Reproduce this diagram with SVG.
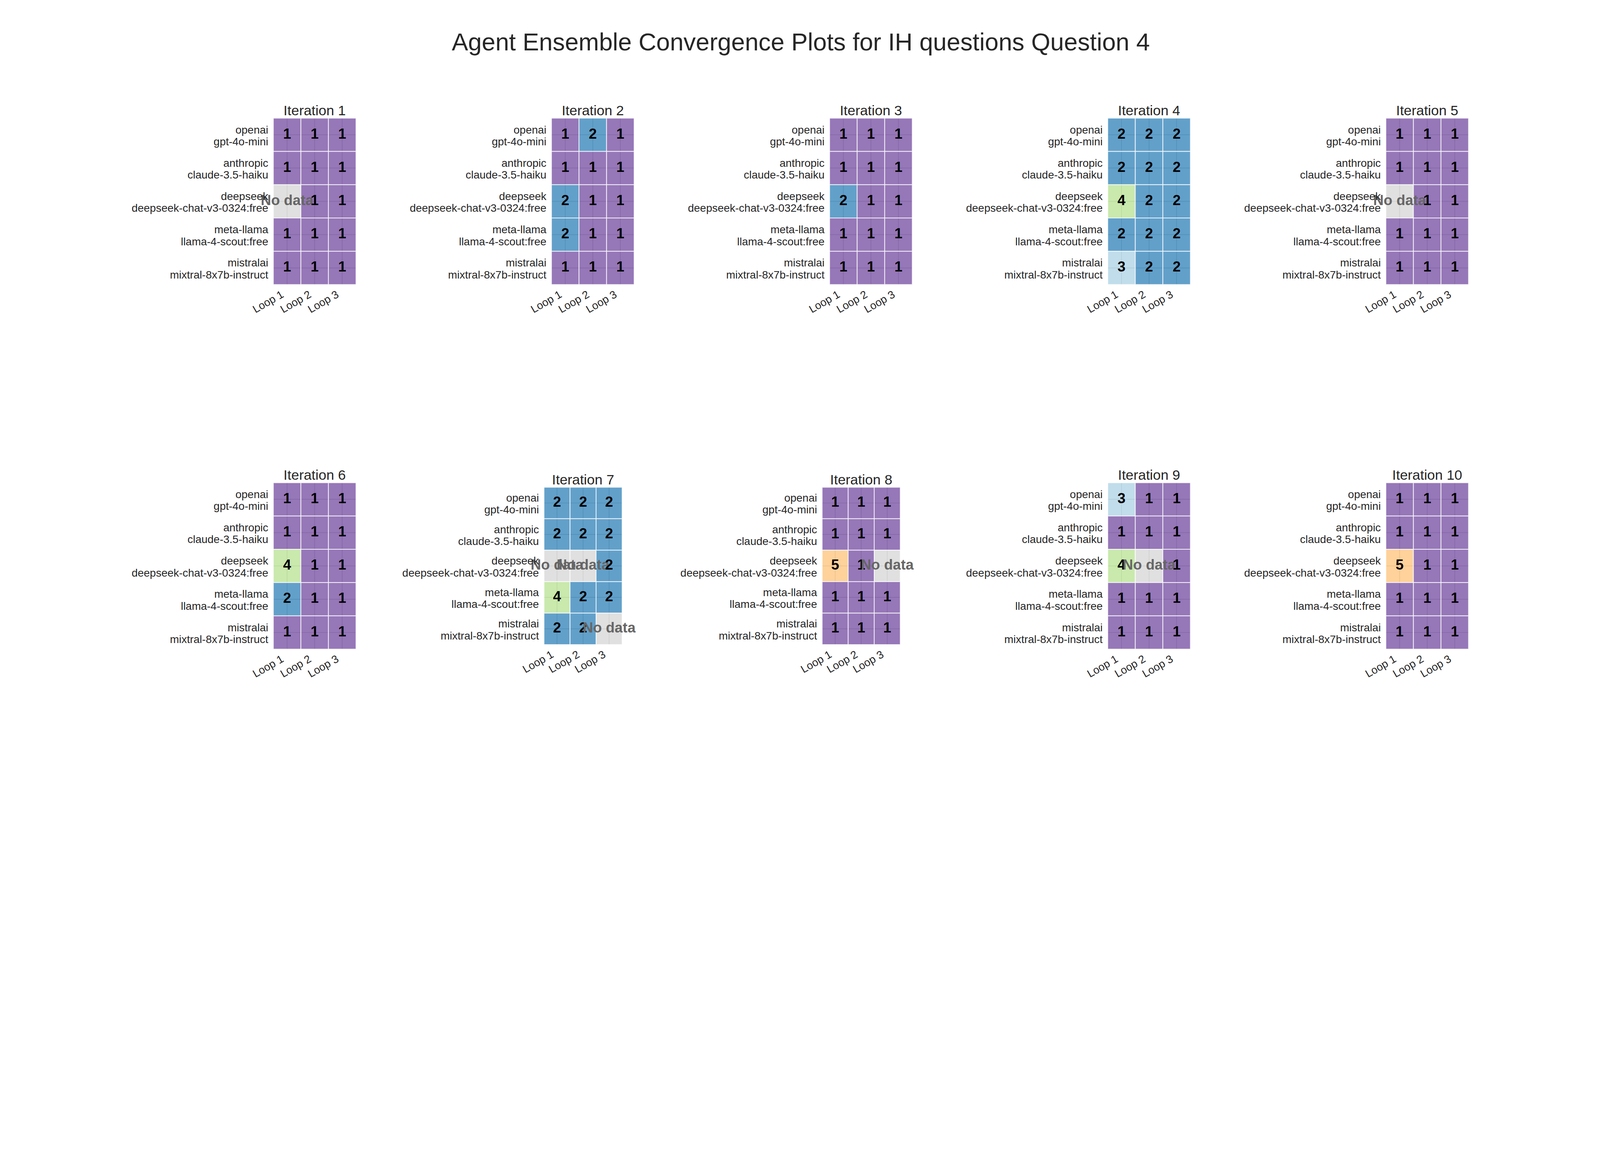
<svg xmlns="http://www.w3.org/2000/svg" width="6000" height="3000" viewBox="0 0 6000 3000" style="width:100vw;height:50vw;max-width:6000px;max-height:3000px;display:block">
<style>
text{font-family:"Liberation Sans",Arial,Helvetica,sans-serif}
.sup{font-size:92px;fill:#262626;text-anchor:middle}
.ttl{font-size:52.5px;fill:#262626;text-anchor:middle}
.lbl{font-size:41px;fill:#262626;text-anchor:end}
.loop{font-size:41px;fill:#262626;text-anchor:end}
.num{font-size:54px;font-weight:bold;fill:#000;text-anchor:middle}
.nd{font-size:54px;font-weight:bold;fill:#666;text-anchor:middle}
.grid{stroke:#cccccc;stroke-width:2.5;fill:none}
.c{stroke:#ffffff;stroke-width:3;stroke-opacity:0.8;fill-opacity:0.7}
.v1{fill:#6a3d9a}.v2{fill:#1f78b4}.v3{fill:#a6cee3}.v4{fill:#b2df8a}.v5{fill:#fdbf6f}.na{fill:#d3d3d3}
</style>
<rect width="6000" height="3000" fill="#ffffff"/>
<text id="suptitle" class="sup" x="3003" y="189">Agent Ensemble Convergence Plots for IH questions Question 4</text>

<g id="iteration-1" transform="translate(1025,443)">
<path class="grid" d="M51.67 0V624M155 0V624M258.33 0V624M0 62.4H310M0 187.2H310M0 312H310M0 436.8H310M0 561.6H310"/>
<rect class="c v1" x="0" y="0" width="103.33" height="124.8"/><rect class="c v1" x="103.33" y="0" width="103.33" height="124.8"/><rect class="c v1" x="206.67" y="0" width="103.33" height="124.8"/>
<rect class="c v1" x="0" y="124.8" width="103.33" height="124.8"/><rect class="c v1" x="103.33" y="124.8" width="103.33" height="124.8"/><rect class="c v1" x="206.67" y="124.8" width="103.33" height="124.8"/>
<rect class="c na" x="0" y="249.6" width="103.33" height="124.8"/><rect class="c v1" x="103.33" y="249.6" width="103.33" height="124.8"/><rect class="c v1" x="206.67" y="249.6" width="103.33" height="124.8"/>
<rect class="c v1" x="0" y="374.4" width="103.33" height="124.8"/><rect class="c v1" x="103.33" y="374.4" width="103.33" height="124.8"/><rect class="c v1" x="206.67" y="374.4" width="103.33" height="124.8"/>
<rect class="c v1" x="0" y="499.2" width="103.33" height="124.8"/><rect class="c v1" x="103.33" y="499.2" width="103.33" height="124.8"/><rect class="c v1" x="206.67" y="499.2" width="103.33" height="124.8"/>
<text class="num" x="51.67" y="76.4">1</text><text class="num" x="155" y="76.4">1</text><text class="num" x="258.33" y="76.4">1</text>
<text class="num" x="51.67" y="201.2">1</text><text class="num" x="155" y="201.2">1</text><text class="num" x="258.33" y="201.2">1</text>
<text class="nd" x="51.67" y="326">No data</text><text class="num" x="155" y="326">1</text><text class="num" x="258.33" y="326">1</text>
<text class="num" x="51.67" y="450.8">1</text><text class="num" x="155" y="450.8">1</text><text class="num" x="258.33" y="450.8">1</text>
<text class="num" x="51.67" y="575.6">1</text><text class="num" x="155" y="575.6">1</text><text class="num" x="258.33" y="575.6">1</text>
<text class="ttl" x="155" y="-11">Iteration 1</text>
<text class="lbl" x="-19" y="57.4"><tspan x="-19">openai</tspan><tspan x="-19" dy="44.5">gpt-4o-mini</tspan></text>
<text class="lbl" x="-19" y="182.2"><tspan x="-19">anthropic</tspan><tspan x="-19" dy="44.5">claude-3.5-haiku</tspan></text>
<text class="lbl" x="-19" y="307"><tspan x="-19">deepseek</tspan><tspan x="-19" dy="44.5">deepseek-chat-v3-0324:free</tspan></text>
<text class="lbl" x="-19" y="431.8"><tspan x="-19">meta-llama</tspan><tspan x="-19" dy="44.5">llama-4-scout:free</tspan></text>
<text class="lbl" x="-19" y="556.6"><tspan x="-19">mistralai</tspan><tspan x="-19" dy="44.5">mixtral-8x7b-instruct</tspan></text>
<text class="loop" x="41.67" y="669" transform="rotate(-30 41.67 669)">Loop 1</text>
<text class="loop" x="145" y="669" transform="rotate(-30 145 669)">Loop 2</text>
<text class="loop" x="248.33" y="669" transform="rotate(-30 248.33 669)">Loop 3</text>
</g>

<g id="iteration-2" transform="translate(2068,443)">
<path class="grid" d="M51.67 0V624M155 0V624M258.33 0V624M0 62.4H310M0 187.2H310M0 312H310M0 436.8H310M0 561.6H310"/>
<rect class="c v1" x="0" y="0" width="103.33" height="124.8"/><rect class="c v2" x="103.33" y="0" width="103.33" height="124.8"/><rect class="c v1" x="206.67" y="0" width="103.33" height="124.8"/>
<rect class="c v1" x="0" y="124.8" width="103.33" height="124.8"/><rect class="c v1" x="103.33" y="124.8" width="103.33" height="124.8"/><rect class="c v1" x="206.67" y="124.8" width="103.33" height="124.8"/>
<rect class="c v2" x="0" y="249.6" width="103.33" height="124.8"/><rect class="c v1" x="103.33" y="249.6" width="103.33" height="124.8"/><rect class="c v1" x="206.67" y="249.6" width="103.33" height="124.8"/>
<rect class="c v2" x="0" y="374.4" width="103.33" height="124.8"/><rect class="c v1" x="103.33" y="374.4" width="103.33" height="124.8"/><rect class="c v1" x="206.67" y="374.4" width="103.33" height="124.8"/>
<rect class="c v1" x="0" y="499.2" width="103.33" height="124.8"/><rect class="c v1" x="103.33" y="499.2" width="103.33" height="124.8"/><rect class="c v1" x="206.67" y="499.2" width="103.33" height="124.8"/>
<text class="num" x="51.67" y="76.4">1</text><text class="num" x="155" y="76.4">2</text><text class="num" x="258.33" y="76.4">1</text>
<text class="num" x="51.67" y="201.2">1</text><text class="num" x="155" y="201.2">1</text><text class="num" x="258.33" y="201.2">1</text>
<text class="num" x="51.67" y="326">2</text><text class="num" x="155" y="326">1</text><text class="num" x="258.33" y="326">1</text>
<text class="num" x="51.67" y="450.8">2</text><text class="num" x="155" y="450.8">1</text><text class="num" x="258.33" y="450.8">1</text>
<text class="num" x="51.67" y="575.6">1</text><text class="num" x="155" y="575.6">1</text><text class="num" x="258.33" y="575.6">1</text>
<text class="ttl" x="155" y="-11">Iteration 2</text>
<text class="lbl" x="-19" y="57.4"><tspan x="-19">openai</tspan><tspan x="-19" dy="44.5">gpt-4o-mini</tspan></text>
<text class="lbl" x="-19" y="182.2"><tspan x="-19">anthropic</tspan><tspan x="-19" dy="44.5">claude-3.5-haiku</tspan></text>
<text class="lbl" x="-19" y="307"><tspan x="-19">deepseek</tspan><tspan x="-19" dy="44.5">deepseek-chat-v3-0324:free</tspan></text>
<text class="lbl" x="-19" y="431.8"><tspan x="-19">meta-llama</tspan><tspan x="-19" dy="44.5">llama-4-scout:free</tspan></text>
<text class="lbl" x="-19" y="556.6"><tspan x="-19">mistralai</tspan><tspan x="-19" dy="44.5">mixtral-8x7b-instruct</tspan></text>
<text class="loop" x="41.67" y="669" transform="rotate(-30 41.67 669)">Loop 1</text>
<text class="loop" x="145" y="669" transform="rotate(-30 145 669)">Loop 2</text>
<text class="loop" x="248.33" y="669" transform="rotate(-30 248.33 669)">Loop 3</text>
</g>

<g id="iteration-3" transform="translate(3111,443)">
<path class="grid" d="M51.67 0V624M155 0V624M258.33 0V624M0 62.4H310M0 187.2H310M0 312H310M0 436.8H310M0 561.6H310"/>
<rect class="c v1" x="0" y="0" width="103.33" height="124.8"/><rect class="c v1" x="103.33" y="0" width="103.33" height="124.8"/><rect class="c v1" x="206.67" y="0" width="103.33" height="124.8"/>
<rect class="c v1" x="0" y="124.8" width="103.33" height="124.8"/><rect class="c v1" x="103.33" y="124.8" width="103.33" height="124.8"/><rect class="c v1" x="206.67" y="124.8" width="103.33" height="124.8"/>
<rect class="c v2" x="0" y="249.6" width="103.33" height="124.8"/><rect class="c v1" x="103.33" y="249.6" width="103.33" height="124.8"/><rect class="c v1" x="206.67" y="249.6" width="103.33" height="124.8"/>
<rect class="c v1" x="0" y="374.4" width="103.33" height="124.8"/><rect class="c v1" x="103.33" y="374.4" width="103.33" height="124.8"/><rect class="c v1" x="206.67" y="374.4" width="103.33" height="124.8"/>
<rect class="c v1" x="0" y="499.2" width="103.33" height="124.8"/><rect class="c v1" x="103.33" y="499.2" width="103.33" height="124.8"/><rect class="c v1" x="206.67" y="499.2" width="103.33" height="124.8"/>
<text class="num" x="51.67" y="76.4">1</text><text class="num" x="155" y="76.4">1</text><text class="num" x="258.33" y="76.4">1</text>
<text class="num" x="51.67" y="201.2">1</text><text class="num" x="155" y="201.2">1</text><text class="num" x="258.33" y="201.2">1</text>
<text class="num" x="51.67" y="326">2</text><text class="num" x="155" y="326">1</text><text class="num" x="258.33" y="326">1</text>
<text class="num" x="51.67" y="450.8">1</text><text class="num" x="155" y="450.8">1</text><text class="num" x="258.33" y="450.8">1</text>
<text class="num" x="51.67" y="575.6">1</text><text class="num" x="155" y="575.6">1</text><text class="num" x="258.33" y="575.6">1</text>
<text class="ttl" x="155" y="-11">Iteration 3</text>
<text class="lbl" x="-19" y="57.4"><tspan x="-19">openai</tspan><tspan x="-19" dy="44.5">gpt-4o-mini</tspan></text>
<text class="lbl" x="-19" y="182.2"><tspan x="-19">anthropic</tspan><tspan x="-19" dy="44.5">claude-3.5-haiku</tspan></text>
<text class="lbl" x="-19" y="307"><tspan x="-19">deepseek</tspan><tspan x="-19" dy="44.5">deepseek-chat-v3-0324:free</tspan></text>
<text class="lbl" x="-19" y="431.8"><tspan x="-19">meta-llama</tspan><tspan x="-19" dy="44.5">llama-4-scout:free</tspan></text>
<text class="lbl" x="-19" y="556.6"><tspan x="-19">mistralai</tspan><tspan x="-19" dy="44.5">mixtral-8x7b-instruct</tspan></text>
<text class="loop" x="41.67" y="669" transform="rotate(-30 41.67 669)">Loop 1</text>
<text class="loop" x="145" y="669" transform="rotate(-30 145 669)">Loop 2</text>
<text class="loop" x="248.33" y="669" transform="rotate(-30 248.33 669)">Loop 3</text>
</g>

<g id="iteration-4" transform="translate(4154,443)">
<path class="grid" d="M51.67 0V624M155 0V624M258.33 0V624M0 62.4H310M0 187.2H310M0 312H310M0 436.8H310M0 561.6H310"/>
<rect class="c v2" x="0" y="0" width="103.33" height="124.8"/><rect class="c v2" x="103.33" y="0" width="103.33" height="124.8"/><rect class="c v2" x="206.67" y="0" width="103.33" height="124.8"/>
<rect class="c v2" x="0" y="124.8" width="103.33" height="124.8"/><rect class="c v2" x="103.33" y="124.8" width="103.33" height="124.8"/><rect class="c v2" x="206.67" y="124.8" width="103.33" height="124.8"/>
<rect class="c v4" x="0" y="249.6" width="103.33" height="124.8"/><rect class="c v2" x="103.33" y="249.6" width="103.33" height="124.8"/><rect class="c v2" x="206.67" y="249.6" width="103.33" height="124.8"/>
<rect class="c v2" x="0" y="374.4" width="103.33" height="124.8"/><rect class="c v2" x="103.33" y="374.4" width="103.33" height="124.8"/><rect class="c v2" x="206.67" y="374.4" width="103.33" height="124.8"/>
<rect class="c v3" x="0" y="499.2" width="103.33" height="124.8"/><rect class="c v2" x="103.33" y="499.2" width="103.33" height="124.8"/><rect class="c v2" x="206.67" y="499.2" width="103.33" height="124.8"/>
<text class="num" x="51.67" y="76.4">2</text><text class="num" x="155" y="76.4">2</text><text class="num" x="258.33" y="76.4">2</text>
<text class="num" x="51.67" y="201.2">2</text><text class="num" x="155" y="201.2">2</text><text class="num" x="258.33" y="201.2">2</text>
<text class="num" x="51.67" y="326">4</text><text class="num" x="155" y="326">2</text><text class="num" x="258.33" y="326">2</text>
<text class="num" x="51.67" y="450.8">2</text><text class="num" x="155" y="450.8">2</text><text class="num" x="258.33" y="450.8">2</text>
<text class="num" x="51.67" y="575.6">3</text><text class="num" x="155" y="575.6">2</text><text class="num" x="258.33" y="575.6">2</text>
<text class="ttl" x="155" y="-11">Iteration 4</text>
<text class="lbl" x="-19" y="57.4"><tspan x="-19">openai</tspan><tspan x="-19" dy="44.5">gpt-4o-mini</tspan></text>
<text class="lbl" x="-19" y="182.2"><tspan x="-19">anthropic</tspan><tspan x="-19" dy="44.5">claude-3.5-haiku</tspan></text>
<text class="lbl" x="-19" y="307"><tspan x="-19">deepseek</tspan><tspan x="-19" dy="44.5">deepseek-chat-v3-0324:free</tspan></text>
<text class="lbl" x="-19" y="431.8"><tspan x="-19">meta-llama</tspan><tspan x="-19" dy="44.5">llama-4-scout:free</tspan></text>
<text class="lbl" x="-19" y="556.6"><tspan x="-19">mistralai</tspan><tspan x="-19" dy="44.5">mixtral-8x7b-instruct</tspan></text>
<text class="loop" x="41.67" y="669" transform="rotate(-30 41.67 669)">Loop 1</text>
<text class="loop" x="145" y="669" transform="rotate(-30 145 669)">Loop 2</text>
<text class="loop" x="248.33" y="669" transform="rotate(-30 248.33 669)">Loop 3</text>
</g>

<g id="iteration-5" transform="translate(5197,443)">
<path class="grid" d="M51.67 0V624M155 0V624M258.33 0V624M0 62.4H310M0 187.2H310M0 312H310M0 436.8H310M0 561.6H310"/>
<rect class="c v1" x="0" y="0" width="103.33" height="124.8"/><rect class="c v1" x="103.33" y="0" width="103.33" height="124.8"/><rect class="c v1" x="206.67" y="0" width="103.33" height="124.8"/>
<rect class="c v1" x="0" y="124.8" width="103.33" height="124.8"/><rect class="c v1" x="103.33" y="124.8" width="103.33" height="124.8"/><rect class="c v1" x="206.67" y="124.8" width="103.33" height="124.8"/>
<rect class="c na" x="0" y="249.6" width="103.33" height="124.8"/><rect class="c v1" x="103.33" y="249.6" width="103.33" height="124.8"/><rect class="c v1" x="206.67" y="249.6" width="103.33" height="124.8"/>
<rect class="c v1" x="0" y="374.4" width="103.33" height="124.8"/><rect class="c v1" x="103.33" y="374.4" width="103.33" height="124.8"/><rect class="c v1" x="206.67" y="374.4" width="103.33" height="124.8"/>
<rect class="c v1" x="0" y="499.2" width="103.33" height="124.8"/><rect class="c v1" x="103.33" y="499.2" width="103.33" height="124.8"/><rect class="c v1" x="206.67" y="499.2" width="103.33" height="124.8"/>
<text class="num" x="51.67" y="76.4">1</text><text class="num" x="155" y="76.4">1</text><text class="num" x="258.33" y="76.4">1</text>
<text class="num" x="51.67" y="201.2">1</text><text class="num" x="155" y="201.2">1</text><text class="num" x="258.33" y="201.2">1</text>
<text class="nd" x="51.67" y="326">No data</text><text class="num" x="155" y="326">1</text><text class="num" x="258.33" y="326">1</text>
<text class="num" x="51.67" y="450.8">1</text><text class="num" x="155" y="450.8">1</text><text class="num" x="258.33" y="450.8">1</text>
<text class="num" x="51.67" y="575.6">1</text><text class="num" x="155" y="575.6">1</text><text class="num" x="258.33" y="575.6">1</text>
<text class="ttl" x="155" y="-11">Iteration 5</text>
<text class="lbl" x="-19" y="57.4"><tspan x="-19">openai</tspan><tspan x="-19" dy="44.5">gpt-4o-mini</tspan></text>
<text class="lbl" x="-19" y="182.2"><tspan x="-19">anthropic</tspan><tspan x="-19" dy="44.5">claude-3.5-haiku</tspan></text>
<text class="lbl" x="-19" y="307"><tspan x="-19">deepseek</tspan><tspan x="-19" dy="44.5">deepseek-chat-v3-0324:free</tspan></text>
<text class="lbl" x="-19" y="431.8"><tspan x="-19">meta-llama</tspan><tspan x="-19" dy="44.5">llama-4-scout:free</tspan></text>
<text class="lbl" x="-19" y="556.6"><tspan x="-19">mistralai</tspan><tspan x="-19" dy="44.5">mixtral-8x7b-instruct</tspan></text>
<text class="loop" x="41.67" y="669" transform="rotate(-30 41.67 669)">Loop 1</text>
<text class="loop" x="145" y="669" transform="rotate(-30 145 669)">Loop 2</text>
<text class="loop" x="248.33" y="669" transform="rotate(-30 248.33 669)">Loop 3</text>
</g>

<g id="iteration-6" transform="translate(1025,1810)">
<path class="grid" d="M51.67 0V624M155 0V624M258.33 0V624M0 62.4H310M0 187.2H310M0 312H310M0 436.8H310M0 561.6H310"/>
<rect class="c v1" x="0" y="0" width="103.33" height="124.8"/><rect class="c v1" x="103.33" y="0" width="103.33" height="124.8"/><rect class="c v1" x="206.67" y="0" width="103.33" height="124.8"/>
<rect class="c v1" x="0" y="124.8" width="103.33" height="124.8"/><rect class="c v1" x="103.33" y="124.8" width="103.33" height="124.8"/><rect class="c v1" x="206.67" y="124.8" width="103.33" height="124.8"/>
<rect class="c v4" x="0" y="249.6" width="103.33" height="124.8"/><rect class="c v1" x="103.33" y="249.6" width="103.33" height="124.8"/><rect class="c v1" x="206.67" y="249.6" width="103.33" height="124.8"/>
<rect class="c v2" x="0" y="374.4" width="103.33" height="124.8"/><rect class="c v1" x="103.33" y="374.4" width="103.33" height="124.8"/><rect class="c v1" x="206.67" y="374.4" width="103.33" height="124.8"/>
<rect class="c v1" x="0" y="499.2" width="103.33" height="124.8"/><rect class="c v1" x="103.33" y="499.2" width="103.33" height="124.8"/><rect class="c v1" x="206.67" y="499.2" width="103.33" height="124.8"/>
<text class="num" x="51.67" y="76.4">1</text><text class="num" x="155" y="76.4">1</text><text class="num" x="258.33" y="76.4">1</text>
<text class="num" x="51.67" y="201.2">1</text><text class="num" x="155" y="201.2">1</text><text class="num" x="258.33" y="201.2">1</text>
<text class="num" x="51.67" y="326">4</text><text class="num" x="155" y="326">1</text><text class="num" x="258.33" y="326">1</text>
<text class="num" x="51.67" y="450.8">2</text><text class="num" x="155" y="450.8">1</text><text class="num" x="258.33" y="450.8">1</text>
<text class="num" x="51.67" y="575.6">1</text><text class="num" x="155" y="575.6">1</text><text class="num" x="258.33" y="575.6">1</text>
<text class="ttl" x="155" y="-11">Iteration 6</text>
<text class="lbl" x="-19" y="57.4"><tspan x="-19">openai</tspan><tspan x="-19" dy="44.5">gpt-4o-mini</tspan></text>
<text class="lbl" x="-19" y="182.2"><tspan x="-19">anthropic</tspan><tspan x="-19" dy="44.5">claude-3.5-haiku</tspan></text>
<text class="lbl" x="-19" y="307"><tspan x="-19">deepseek</tspan><tspan x="-19" dy="44.5">deepseek-chat-v3-0324:free</tspan></text>
<text class="lbl" x="-19" y="431.8"><tspan x="-19">meta-llama</tspan><tspan x="-19" dy="44.5">llama-4-scout:free</tspan></text>
<text class="lbl" x="-19" y="556.6"><tspan x="-19">mistralai</tspan><tspan x="-19" dy="44.5">mixtral-8x7b-instruct</tspan></text>
<text class="loop" x="41.67" y="669" transform="rotate(-30 41.67 669)">Loop 1</text>
<text class="loop" x="145" y="669" transform="rotate(-30 145 669)">Loop 2</text>
<text class="loop" x="248.33" y="669" transform="rotate(-30 248.33 669)">Loop 3</text>
</g>

<g id="iteration-7" transform="translate(2040,1827)">
<path class="grid" d="M48.83 0V590M146.5 0V590M244.17 0V590M0 59H293M0 177H293M0 295H293M0 413H293M0 531H293"/>
<rect class="c v2" x="0" y="0" width="97.67" height="118"/><rect class="c v2" x="97.67" y="0" width="97.67" height="118"/><rect class="c v2" x="195.33" y="0" width="97.67" height="118"/>
<rect class="c v2" x="0" y="118" width="97.67" height="118"/><rect class="c v2" x="97.67" y="118" width="97.67" height="118"/><rect class="c v2" x="195.33" y="118" width="97.67" height="118"/>
<rect class="c na" x="0" y="236" width="97.67" height="118"/><rect class="c na" x="97.67" y="236" width="97.67" height="118"/><rect class="c v2" x="195.33" y="236" width="97.67" height="118"/>
<rect class="c v4" x="0" y="354" width="97.67" height="118"/><rect class="c v2" x="97.67" y="354" width="97.67" height="118"/><rect class="c v2" x="195.33" y="354" width="97.67" height="118"/>
<rect class="c v2" x="0" y="472" width="97.67" height="118"/><rect class="c v2" x="97.67" y="472" width="97.67" height="118"/><rect class="c na" x="195.33" y="472" width="97.67" height="118"/>
<text class="num" x="48.83" y="73">2</text><text class="num" x="146.5" y="73">2</text><text class="num" x="244.17" y="73">2</text>
<text class="num" x="48.83" y="191">2</text><text class="num" x="146.5" y="191">2</text><text class="num" x="244.17" y="191">2</text>
<text class="nd" x="48.83" y="309">No data</text><text class="nd" x="146.5" y="309">No data</text><text class="num" x="244.17" y="309">2</text>
<text class="num" x="48.83" y="427">4</text><text class="num" x="146.5" y="427">2</text><text class="num" x="244.17" y="427">2</text>
<text class="num" x="48.83" y="545">2</text><text class="num" x="146.5" y="545">2</text><text class="nd" x="244.17" y="545">No data</text>
<text class="ttl" x="146.5" y="-11">Iteration 7</text>
<text class="lbl" x="-19" y="54"><tspan x="-19">openai</tspan><tspan x="-19" dy="44.5">gpt-4o-mini</tspan></text>
<text class="lbl" x="-19" y="172"><tspan x="-19">anthropic</tspan><tspan x="-19" dy="44.5">claude-3.5-haiku</tspan></text>
<text class="lbl" x="-19" y="290"><tspan x="-19">deepseek</tspan><tspan x="-19" dy="44.5">deepseek-chat-v3-0324:free</tspan></text>
<text class="lbl" x="-19" y="408"><tspan x="-19">meta-llama</tspan><tspan x="-19" dy="44.5">llama-4-scout:free</tspan></text>
<text class="lbl" x="-19" y="526"><tspan x="-19">mistralai</tspan><tspan x="-19" dy="44.5">mixtral-8x7b-instruct</tspan></text>
<text class="loop" x="38.83" y="635" transform="rotate(-30 38.83 635)">Loop 1</text>
<text class="loop" x="136.5" y="635" transform="rotate(-30 136.5 635)">Loop 2</text>
<text class="loop" x="234.17" y="635" transform="rotate(-30 234.17 635)">Loop 3</text>
</g>

<g id="iteration-8" transform="translate(3083,1827)">
<path class="grid" d="M48.83 0V590M146.5 0V590M244.17 0V590M0 59H293M0 177H293M0 295H293M0 413H293M0 531H293"/>
<rect class="c v1" x="0" y="0" width="97.67" height="118"/><rect class="c v1" x="97.67" y="0" width="97.67" height="118"/><rect class="c v1" x="195.33" y="0" width="97.67" height="118"/>
<rect class="c v1" x="0" y="118" width="97.67" height="118"/><rect class="c v1" x="97.67" y="118" width="97.67" height="118"/><rect class="c v1" x="195.33" y="118" width="97.67" height="118"/>
<rect class="c v5" x="0" y="236" width="97.67" height="118"/><rect class="c v1" x="97.67" y="236" width="97.67" height="118"/><rect class="c na" x="195.33" y="236" width="97.67" height="118"/>
<rect class="c v1" x="0" y="354" width="97.67" height="118"/><rect class="c v1" x="97.67" y="354" width="97.67" height="118"/><rect class="c v1" x="195.33" y="354" width="97.67" height="118"/>
<rect class="c v1" x="0" y="472" width="97.67" height="118"/><rect class="c v1" x="97.67" y="472" width="97.67" height="118"/><rect class="c v1" x="195.33" y="472" width="97.67" height="118"/>
<text class="num" x="48.83" y="73">1</text><text class="num" x="146.5" y="73">1</text><text class="num" x="244.17" y="73">1</text>
<text class="num" x="48.83" y="191">1</text><text class="num" x="146.5" y="191">1</text><text class="num" x="244.17" y="191">1</text>
<text class="num" x="48.83" y="309">5</text><text class="num" x="146.5" y="309">1</text><text class="nd" x="244.17" y="309">No data</text>
<text class="num" x="48.83" y="427">1</text><text class="num" x="146.5" y="427">1</text><text class="num" x="244.17" y="427">1</text>
<text class="num" x="48.83" y="545">1</text><text class="num" x="146.5" y="545">1</text><text class="num" x="244.17" y="545">1</text>
<text class="ttl" x="146.5" y="-11">Iteration 8</text>
<text class="lbl" x="-19" y="54"><tspan x="-19">openai</tspan><tspan x="-19" dy="44.5">gpt-4o-mini</tspan></text>
<text class="lbl" x="-19" y="172"><tspan x="-19">anthropic</tspan><tspan x="-19" dy="44.5">claude-3.5-haiku</tspan></text>
<text class="lbl" x="-19" y="290"><tspan x="-19">deepseek</tspan><tspan x="-19" dy="44.5">deepseek-chat-v3-0324:free</tspan></text>
<text class="lbl" x="-19" y="408"><tspan x="-19">meta-llama</tspan><tspan x="-19" dy="44.5">llama-4-scout:free</tspan></text>
<text class="lbl" x="-19" y="526"><tspan x="-19">mistralai</tspan><tspan x="-19" dy="44.5">mixtral-8x7b-instruct</tspan></text>
<text class="loop" x="38.83" y="635" transform="rotate(-30 38.83 635)">Loop 1</text>
<text class="loop" x="136.5" y="635" transform="rotate(-30 136.5 635)">Loop 2</text>
<text class="loop" x="234.17" y="635" transform="rotate(-30 234.17 635)">Loop 3</text>
</g>

<g id="iteration-9" transform="translate(4154,1810)">
<path class="grid" d="M51.67 0V624M155 0V624M258.33 0V624M0 62.4H310M0 187.2H310M0 312H310M0 436.8H310M0 561.6H310"/>
<rect class="c v3" x="0" y="0" width="103.33" height="124.8"/><rect class="c v1" x="103.33" y="0" width="103.33" height="124.8"/><rect class="c v1" x="206.67" y="0" width="103.33" height="124.8"/>
<rect class="c v1" x="0" y="124.8" width="103.33" height="124.8"/><rect class="c v1" x="103.33" y="124.8" width="103.33" height="124.8"/><rect class="c v1" x="206.67" y="124.8" width="103.33" height="124.8"/>
<rect class="c v4" x="0" y="249.6" width="103.33" height="124.8"/><rect class="c na" x="103.33" y="249.6" width="103.33" height="124.8"/><rect class="c v1" x="206.67" y="249.6" width="103.33" height="124.8"/>
<rect class="c v1" x="0" y="374.4" width="103.33" height="124.8"/><rect class="c v1" x="103.33" y="374.4" width="103.33" height="124.8"/><rect class="c v1" x="206.67" y="374.4" width="103.33" height="124.8"/>
<rect class="c v1" x="0" y="499.2" width="103.33" height="124.8"/><rect class="c v1" x="103.33" y="499.2" width="103.33" height="124.8"/><rect class="c v1" x="206.67" y="499.2" width="103.33" height="124.8"/>
<text class="num" x="51.67" y="76.4">3</text><text class="num" x="155" y="76.4">1</text><text class="num" x="258.33" y="76.4">1</text>
<text class="num" x="51.67" y="201.2">1</text><text class="num" x="155" y="201.2">1</text><text class="num" x="258.33" y="201.2">1</text>
<text class="num" x="51.67" y="326">4</text><text class="nd" x="155" y="326">No data</text><text class="num" x="258.33" y="326">1</text>
<text class="num" x="51.67" y="450.8">1</text><text class="num" x="155" y="450.8">1</text><text class="num" x="258.33" y="450.8">1</text>
<text class="num" x="51.67" y="575.6">1</text><text class="num" x="155" y="575.6">1</text><text class="num" x="258.33" y="575.6">1</text>
<text class="ttl" x="155" y="-11">Iteration 9</text>
<text class="lbl" x="-19" y="57.4"><tspan x="-19">openai</tspan><tspan x="-19" dy="44.5">gpt-4o-mini</tspan></text>
<text class="lbl" x="-19" y="182.2"><tspan x="-19">anthropic</tspan><tspan x="-19" dy="44.5">claude-3.5-haiku</tspan></text>
<text class="lbl" x="-19" y="307"><tspan x="-19">deepseek</tspan><tspan x="-19" dy="44.5">deepseek-chat-v3-0324:free</tspan></text>
<text class="lbl" x="-19" y="431.8"><tspan x="-19">meta-llama</tspan><tspan x="-19" dy="44.5">llama-4-scout:free</tspan></text>
<text class="lbl" x="-19" y="556.6"><tspan x="-19">mistralai</tspan><tspan x="-19" dy="44.5">mixtral-8x7b-instruct</tspan></text>
<text class="loop" x="41.67" y="669" transform="rotate(-30 41.67 669)">Loop 1</text>
<text class="loop" x="145" y="669" transform="rotate(-30 145 669)">Loop 2</text>
<text class="loop" x="248.33" y="669" transform="rotate(-30 248.33 669)">Loop 3</text>
</g>

<g id="iteration-10" transform="translate(5197,1810)">
<path class="grid" d="M51.67 0V624M155 0V624M258.33 0V624M0 62.4H310M0 187.2H310M0 312H310M0 436.8H310M0 561.6H310"/>
<rect class="c v1" x="0" y="0" width="103.33" height="124.8"/><rect class="c v1" x="103.33" y="0" width="103.33" height="124.8"/><rect class="c v1" x="206.67" y="0" width="103.33" height="124.8"/>
<rect class="c v1" x="0" y="124.8" width="103.33" height="124.8"/><rect class="c v1" x="103.33" y="124.8" width="103.33" height="124.8"/><rect class="c v1" x="206.67" y="124.8" width="103.33" height="124.8"/>
<rect class="c v5" x="0" y="249.6" width="103.33" height="124.8"/><rect class="c v1" x="103.33" y="249.6" width="103.33" height="124.8"/><rect class="c v1" x="206.67" y="249.6" width="103.33" height="124.8"/>
<rect class="c v1" x="0" y="374.4" width="103.33" height="124.8"/><rect class="c v1" x="103.33" y="374.4" width="103.33" height="124.8"/><rect class="c v1" x="206.67" y="374.4" width="103.33" height="124.8"/>
<rect class="c v1" x="0" y="499.2" width="103.33" height="124.8"/><rect class="c v1" x="103.33" y="499.2" width="103.33" height="124.8"/><rect class="c v1" x="206.67" y="499.2" width="103.33" height="124.8"/>
<text class="num" x="51.67" y="76.4">1</text><text class="num" x="155" y="76.4">1</text><text class="num" x="258.33" y="76.4">1</text>
<text class="num" x="51.67" y="201.2">1</text><text class="num" x="155" y="201.2">1</text><text class="num" x="258.33" y="201.2">1</text>
<text class="num" x="51.67" y="326">5</text><text class="num" x="155" y="326">1</text><text class="num" x="258.33" y="326">1</text>
<text class="num" x="51.67" y="450.8">1</text><text class="num" x="155" y="450.8">1</text><text class="num" x="258.33" y="450.8">1</text>
<text class="num" x="51.67" y="575.6">1</text><text class="num" x="155" y="575.6">1</text><text class="num" x="258.33" y="575.6">1</text>
<text class="ttl" x="155" y="-11">Iteration 10</text>
<text class="lbl" x="-19" y="57.4"><tspan x="-19">openai</tspan><tspan x="-19" dy="44.5">gpt-4o-mini</tspan></text>
<text class="lbl" x="-19" y="182.2"><tspan x="-19">anthropic</tspan><tspan x="-19" dy="44.5">claude-3.5-haiku</tspan></text>
<text class="lbl" x="-19" y="307"><tspan x="-19">deepseek</tspan><tspan x="-19" dy="44.5">deepseek-chat-v3-0324:free</tspan></text>
<text class="lbl" x="-19" y="431.8"><tspan x="-19">meta-llama</tspan><tspan x="-19" dy="44.5">llama-4-scout:free</tspan></text>
<text class="lbl" x="-19" y="556.6"><tspan x="-19">mistralai</tspan><tspan x="-19" dy="44.5">mixtral-8x7b-instruct</tspan></text>
<text class="loop" x="41.67" y="669" transform="rotate(-30 41.67 669)">Loop 1</text>
<text class="loop" x="145" y="669" transform="rotate(-30 145 669)">Loop 2</text>
<text class="loop" x="248.33" y="669" transform="rotate(-30 248.33 669)">Loop 3</text>
</g>

<g id="connectors"></g>
</svg>
